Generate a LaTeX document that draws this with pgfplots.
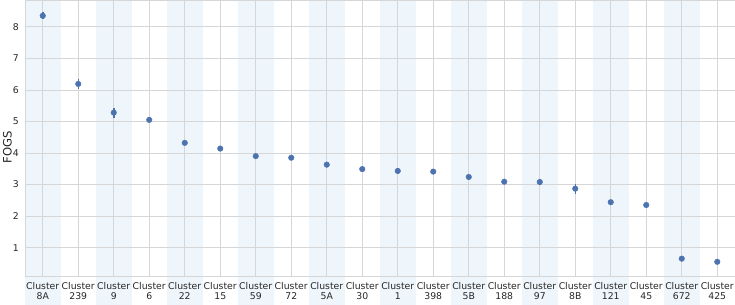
\documentclass[border=0pt]{standalone}
\usepackage{fontspec}
\setmainfont{DejaVu Sans}
\usepackage{pgfplots}
\usepackage{pgfplotstable}
\pgfplotsset{compat=1.18}
\definecolor{band}{RGB}{239,246,251}
\definecolor{gridc}{RGB}{214,214,214}
\definecolor{ptc}{RGB}{76,114,176}
\definecolor{txt}{RGB}{38,38,38}

\pgfplotstableread{
x y e
0 8.35 0.11
1 6.19 0.15
2 5.28 0.16
3 5.05 0.08
4 4.32 0.04
5 4.14 0.04
6 3.90 0.04
7 3.85 0.04
8 3.63 0.05
9 3.49 0.03
10 3.43 0.08
11 3.41 0.04
12 3.24 0.06
13 3.09 0.03
14 3.08 0.10
15 2.87 0.16
16 2.44 0.03
17 2.35 0.03
18 0.65 0.04
19 0.55 0.03
}\fogs

\newcommand\band[2]{\addplot[fill=band, draw=none, on layer=axis background, forget plot] coordinates {(#1,-0.85) (#2,-0.85) (#2,8.85) (#1,8.85)};}

\begin{document}
\begin{tikzpicture}
\begin{axis}[name=ax, width=710pt, height=276pt, scale only axis,
 xmin=-0.5, xmax=19.5, ymin=0.1, ymax=8.85, clip=false, set layers,
 xtick={0,...,19},
 xticklabels={{Cluster\\8A},{Cluster\\239},{Cluster\\9},{Cluster\\6},{Cluster\\22},{Cluster\\15},{Cluster\\59},{Cluster\\72},{Cluster\\5A},{Cluster\\30},{Cluster\\1},{Cluster\\398},{Cluster\\5B},{Cluster\\188},{Cluster\\97},{Cluster\\8B},{Cluster\\121},{Cluster\\45},{Cluster\\672},{Cluster\\425}},
 ytick={1,...,8},
 grid=major, major grid style={gridc, line width=0.8pt},
 axis line style={gridc, line width=0.8pt},
 major tick length=0pt,
 tick label style={font=\fontsize{9.3}{10.6}\selectfont, text=txt},
 xticklabel style={align=center, inner sep=0pt, anchor=north, yshift=-6pt},
 yticklabel style={inner sep=0pt, anchor=east, xshift=-6pt},
 /pgf/number format/assume math mode=true,
 ylabel={FOGS},
 every axis y label/.style={at={(0,0.5)}, xshift=-17.5pt, yshift=-9.5pt, rotate=90, anchor=center, font=\fontsize{11.6}{13}\selectfont, text=txt},
]
\band{-0.5}{0.5}
\band{1.5}{2.5}
\band{3.5}{4.5}
\band{5.5}{6.5}
\band{7.5}{8.5}
\band{9.5}{10.5}
\band{11.5}{12.5}
\band{13.5}{14.5}
\band{15.5}{16.5}
\band{17.5}{18.5}
\addplot[only marks, mark=*, mark size=2.8pt, color=ptc,
  error bars/.cd, y dir=both, y explicit, error mark=none,
  error bar style={line width=1.5pt, ptc}]
  table[x=x, y=y, y error=e] {\fogs};
\end{axis}
\pgfresetboundingbox
\path (ax.south west) ++(-25pt,-28pt) rectangle (ax.north east);
\end{tikzpicture}
\end{document}
